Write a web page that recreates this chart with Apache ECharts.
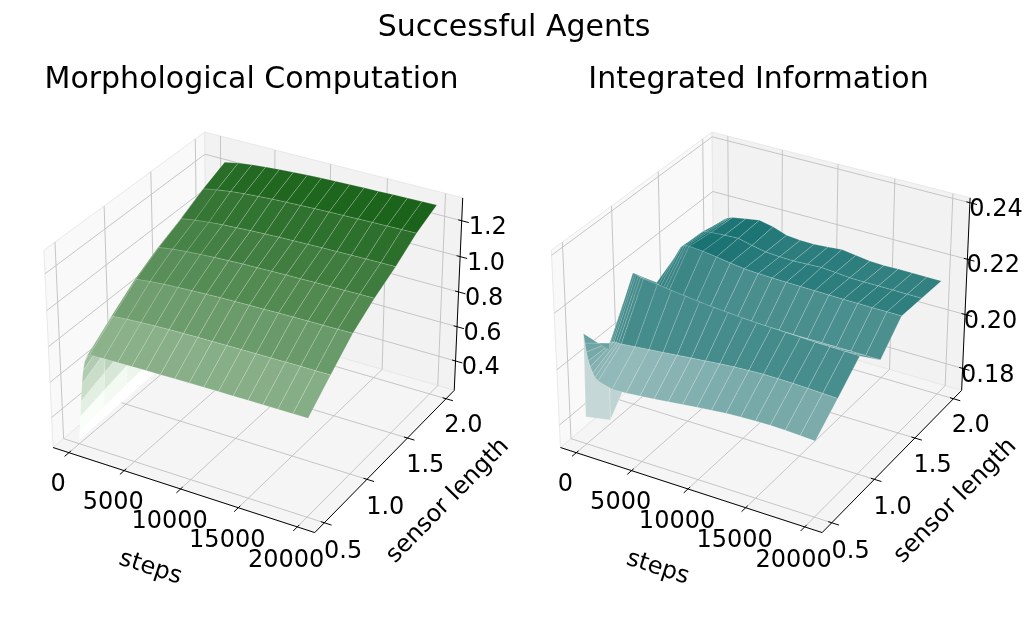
<!DOCTYPE html>
<html><head><meta charset="utf-8"><title>Successful Agents</title>
<script src="https://cdn.jsdelivr.net/npm/echarts@6.0.0/dist/echarts.min.js"></script>
<style>html,body{margin:0;padding:0;background:#fff;}#chart{width:1028px;height:630px;}</style>
</head><body><div id="chart"></div>
<script>
// ---------------- data ----------------
const steps = [0, 100, 200, 300, 450, 600, 800, 1000, 1250, 2500, 3750, 5000, 6250, 7500, 8750, 10000, 11250, 12500, 13750, 15000, 16250, 17500, 18750, 20000];
const sensorLengths = [0.5, 0.75, 1.0, 1.25, 1.5, 1.75, 2.0];

// Morphological Computation, one array per sensor length (values along steps)
const mc050 = [0.248, 0.309, 0.391, 0.478, 0.580, 0.656, 0.717, 0.745, 0.758, 0.761, 0.763, 0.765, 0.767, 0.768, 0.769, 0.770, 0.771, 0.772, 0.772, 0.773, 0.774, 0.774, 0.775, 0.775];
const mc075 = [0.255, 0.328, 0.426, 0.530, 0.652, 0.743, 0.816, 0.850, 0.865, 0.872, 0.877, 0.881, 0.884, 0.886, 0.888, 0.889, 0.890, 0.891, 0.892, 0.893, 0.894, 0.895, 0.895, 0.896];
const mc100 = [0.260, 0.345, 0.458, 0.579, 0.720, 0.826, 0.911, 0.950, 0.968, 0.978, 0.985, 0.990, 0.994, 0.997, 1.000, 1.002, 1.004, 1.005, 1.007, 1.008, 1.009, 1.010, 1.011, 1.012];
const mc125 = [0.265, 0.359, 0.483, 0.616, 0.772, 0.889, 0.983, 1.026, 1.045, 1.057, 1.065, 1.071, 1.076, 1.080, 1.083, 1.085, 1.087, 1.089, 1.090, 1.092, 1.093, 1.094, 1.095, 1.096];
const mc150 = [0.270, 0.371, 0.505, 0.647, 0.815, 0.940, 1.041, 1.087, 1.108, 1.121, 1.130, 1.137, 1.142, 1.147, 1.150, 1.153, 1.155, 1.157, 1.159, 1.160, 1.162, 1.163, 1.164, 1.165];
const mc175 = [0.275, 0.384, 0.528, 0.682, 0.863, 0.999, 1.108, 1.157, 1.180, 1.195, 1.206, 1.214, 1.220, 1.225, 1.229, 1.232, 1.235, 1.237, 1.239, 1.241, 1.243, 1.244, 1.246, 1.247];
const mc200 = [0.280, 0.395, 0.548, 0.711, 0.903, 1.046, 1.161, 1.214, 1.238, 1.253, 1.264, 1.271, 1.277, 1.282, 1.286, 1.289, 1.292, 1.294, 1.296, 1.298, 1.300, 1.301, 1.303, 1.304];

// Integrated Information, one array per sensor length
const ii050 = [0.1817, 0.2117, 0.2085, 0.2055, 0.2025, 0.2005, 0.1985, 0.1972, 0.1962, 0.1948, 0.1950, 0.1955, 0.1960, 0.1966, 0.1972, 0.1978, 0.1983, 0.1988, 0.1991, 0.1993, 0.1994, 0.1993, 0.1990, 0.1987];
const ii075 = [0.1731, 0.1990, 0.2015, 0.2020, 0.2022, 0.2025, 0.2025, 0.2024, 0.2025, 0.2030, 0.2035, 0.2040, 0.2045, 0.2050, 0.2055, 0.2060, 0.2064, 0.2067, 0.2069, 0.2069, 0.2068, 0.2066, 0.2064, 0.2062];
const ii100 = [0.1850, 0.2120, 0.2185, 0.2200, 0.2201, 0.2198, 0.2195, 0.2193, 0.2191, 0.2185, 0.2178, 0.2172, 0.2166, 0.2161, 0.2157, 0.2153, 0.2150, 0.2148, 0.2146, 0.2144, 0.2142, 0.2141, 0.2140, 0.2139];
const ii125 = [0.1800, 0.2050, 0.2095, 0.2101, 0.2095, 0.2088, 0.2080, 0.2074, 0.2070, 0.2062, 0.2058, 0.2055, 0.2053, 0.2052, 0.2052, 0.2053, 0.2054, 0.2055, 0.2055, 0.2056, 0.2056, 0.2056, 0.2055, 0.2055];
const ii150 = [0.1830, 0.2040, 0.2120, 0.2150, 0.2165, 0.2172, 0.2176, 0.2178, 0.2179, 0.2175, 0.2168, 0.2160, 0.2153, 0.2150, 0.2148, 0.2147, 0.2146, 0.2145, 0.2144, 0.2143, 0.2143, 0.2142, 0.2142, 0.2142];
const ii175 = [0.1860, 0.2060, 0.2130, 0.2152, 0.2160, 0.2163, 0.2164, 0.2165, 0.2166, 0.2170, 0.2172, 0.2160, 0.2150, 0.2146, 0.2145, 0.2147, 0.2149, 0.2145, 0.2140, 0.2139, 0.2139, 0.2139, 0.2138, 0.2138];
const ii200 = [0.1900, 0.2050, 0.2100, 0.2125, 0.2140, 0.2148, 0.2153, 0.2156, 0.2159, 0.2168, 0.2176, 0.2165, 0.2148, 0.2143, 0.2142, 0.2146, 0.2150, 0.2143, 0.2136, 0.2134, 0.2135, 0.2135, 0.2134, 0.2134];

const stepTicks = [0, 5000, 10000, 15000, 20000];
const sensorTicks = [0.5, 1.0, 1.5, 2.0];
const mcZTicks = [0.4, 0.6, 0.8, 1.0, 1.2];
const iiZTicks = [0.18, 0.20, 0.22, 0.24];
const mcZRange = [0.248, 1.304];     // z axis data range (left)
const iiZRange = [0.1731, 0.2403];   // z axis data range (right)

// ---------------- camera (matplotlib-like 3D view) ----------------
const ELEV = 30, AZIM = -60, DIST = 10, BOX = [4, 4, 3];
const cam = (function () {
  const n = Math.hypot(BOX[0], BOX[1], BOX[2]);
  const asp = BOX.map(b => b * 1.8294640721620434 / n);
  const R = asp.map(a => a / 2);
  const el = ELEV * Math.PI / 180, az = AZIM * Math.PI / 180;
  const w = [Math.cos(el) * Math.cos(az), Math.cos(el) * Math.sin(az), Math.sin(el)];
  const E = R.map((r, i) => r + DIST * w[i]);
  let u = [-w[1], w[0], 0];
  const un = Math.hypot(u[0], u[1], u[2]); u = u.map(c => c / un);
  const v = [w[1] * u[2] - w[2] * u[1], w[2] * u[0] - w[0] * u[2], w[0] * u[1] - w[1] * u[0]];
  return { asp, E, u, v, w };
})();
function projN(X, Y, Z) {
  const d = [X - cam.E[0], Y - cam.E[1], Z - cam.E[2]];
  const dot = a => a[0] * d[0] + a[1] * d[1] + a[2] * d[2];
  const D = -dot(cam.w);
  return [dot(cam.u) / D, dot(cam.v) / D, D];
}
function boxLim(lo, hi, margin) {
  const r = hi - lo; const a = lo - margin * r, b = hi + margin * r; const p = (b - a) / 48;
  return [a - p, b + p];
}
const FONT = "'DejaVu Sans', 'Liberation Sans', sans-serif";
const A = cam.asp;

function makePanel(cfg) {
  const p = Object.assign({}, cfg);
  p.xb = boxLim(0, 20000, 0.05);
  p.yb = boxLim(0.5, 2.0, 0.05);
  p.zb = boxLim(cfg.zRange[0], cfg.zRange[1], 0);
  p.nrm = (x, y, z) => [(x - p.xb[0]) / (p.xb[1] - p.xb[0]) * A[0], (y - p.yb[0]) / (p.yb[1] - p.yb[0]) * A[1], (z - p.zb[0]) / (p.zb[1] - p.zb[0]) * A[2]];
  p.scrN = (X, Y, Z) => { const s = projN(X, Y, Z); return [p.ox + p.k * s[0], p.oy - p.k * s[1], s[2]]; };
  p.scr = (x, y, z) => { const n = p.nrm(x, y, z); return p.scrN(n[0], n[1], n[2]); };
  let mn = Infinity, mx = -Infinity;
  p.rows.forEach(r => r.forEach(v => { mn = Math.min(mn, v); mx = Math.max(mx, v); }));
  p.cmin = mn; p.cmax = mx;
  p.color = z => {
    const t = (z - p.cmin) / (p.cmax - p.cmin);
    const c = p.cLow.map((c0, i) => Math.max(0, Math.min(255, Math.round(c0 + (p.cHigh[i] - c0) * t))));
    return 'rgb(' + c.join(',') + ')';
  };
  return p;
}

const panels = [
  makePanel({ title: 'Morphological Computation', titleX: 251.5, ox: 257.2, oy: 323.1, k: 2624,
    rows: [mc050, mc075, mc100, mc125, mc150, mc175, mc200], zRange: mcZRange, zTicks: mcZTicks, zDigits: 1,
    cLow: [277, 274, 277], cHigh: [20, 94, 19] }),
  makePanel({ title: 'Integrated Information', titleX: 758.5, ox: 764.6, oy: 323.1, k: 2624,
    rows: [ii050, ii075, ii100, ii125, ii150, ii175, ii200], zRange: iiZRange, zTicks: iiZTicks, zDigits: 2,
    cLow: [319, 286, 286], cHigh: [7, 103, 103] })
];

// ---------------- axes box (panes, grid, ticks, labels) ----------------
const elements = [];
function pl(pts) { return pts.map(q => [q[0], q[1]]); }
function addText(text, x, y, size, rot, z2) {
  elements.push({ type: 'text', x: x, y: y, rotation: rot || 0, z2: z2 || 10, silent: true,
    style: { text: text, fontSize: size, fontFamily: FONT, fill: '#000', align: 'center', verticalAlign: 'middle', textAlign: 'center', textVerticalAlign: 'middle' } });
}
addText('Successful Agents', 514, 28, 30, 0, 10);

panels.forEach(p => {
  const S = p.scrN;
  const a = A[0], b = A[1], c = A[2];
  // panes
  const panes = [
    { pts: [S(0, 0, 0), S(0, b, 0), S(0, b, c), S(0, 0, c)], fill: '#f9f9f9' },
    { pts: [S(0, b, 0), S(a, b, 0), S(a, b, c), S(0, b, c)], fill: '#f2f2f2' },
    { pts: [S(0, 0, 0), S(a, 0, 0), S(a, b, 0), S(0, b, 0)], fill: '#f5f5f5' }
  ];
  panes.forEach(q => elements.push({ type: 'polygon', z2: 0, silent: true, shape: { points: pl(q.pts) }, style: { fill: q.fill, stroke: '#e9e9e9', lineWidth: 1 } }));
  const grid = pts => elements.push({ type: 'polyline', z2: 1, silent: true, shape: { points: pl(pts) }, style: { fill: null, stroke: '#bfbfbf', lineWidth: 0.9 } });
  stepTicks.forEach(t => { const X = p.nrm(t, 1, 1)[0]; grid([S(X, 0, 0), S(X, b, 0), S(X, b, c)]); });
  sensorTicks.forEach(t => { const Y = p.nrm(0, t, 1)[1]; grid([S(a, Y, 0), S(0, Y, 0), S(0, Y, c)]); });
  p.zTicks.forEach(t => { const Z = p.nrm(0, 1, t)[2]; grid([S(0, 0, Z), S(0, b, Z), S(a, b, Z)]); });
  // axis lines
  const line = (p0, p1) => elements.push({ type: 'line', z2: 2, silent: true, shape: { x1: p0[0], y1: p0[1], x2: p1[0], y2: p1[1] }, style: { stroke: '#000', lineWidth: 1 } });
  line(S(0, 0, 0), S(a, 0, 0));
  line(S(a, 0, 0), S(a, b, 0));
  line(S(a, b, 0), S(a, b, c));
  // ticks and tick labels
  stepTicks.forEach(t => {
    const X = p.nrm(t, 1, 1)[0];
    line(S(X, 0.015, 0), S(X, -0.03, 0));
    const L = S(X, -0.081, -0.10); addText(String(t), L[0], L[1], 24);
  });
  sensorTicks.forEach(t => {
    const Y = p.nrm(0, t, 1)[1];
    line(S(a - 0.015, Y, 0), S(a + 0.03, Y, 0));
    const L = S(a + 0.08, Y, -0.10); addText(t.toFixed(1), L[0], L[1], 24);
  });
  p.zTicks.forEach(t => {
    const Z = p.nrm(0, 1, t)[2];
    line(S(a - 0.015, b, Z), S(a + 0.03, b, Z));
    const L = S(a + 0.11, b, Z); addText(t.toFixed(p.zDigits), L[0], L[1], 24);
  });
  // axis titles
  const x0 = S(0, 0, 0), x1 = S(a, 0, 0);
  const lx = S(a / 2, -0.221, -0.224);
  addText('steps', lx[0], lx[1], 24, Math.atan2(-(x1[1] - x0[1]), x1[0] - x0[0]));
  const y0 = S(a, 0, 0), y1 = S(a, b, 0);
  const ly = S(a + 0.26, b / 2, -0.107);
  addText('sensor length', ly[0], ly[1], 24, Math.atan2(-(y1[1] - y0[1]), y1[0] - y0[0]));
  addText(p.title, p.titleX, 80, 30);
});

// ---------------- surfaces (custom series, depth sorted facets) ----------------
function facetData(p) {
  const list = [];
  for (let j = 0; j < sensorLengths.length - 1; j++) {
    for (let i = 0; i < steps.length - 1; i++) {
      let d = 0;
      [[i, j], [i + 1, j], [i + 1, j + 1], [i, j + 1]].forEach(q => { d += p.scr(steps[q[0]], sensorLengths[q[1]], p.rows[q[1]][q[0]])[2]; });
      list.push([i, j, d / 4]);
    }
  }
  list.sort((m, n) => n[2] - m[2]);
  return list.map((f, r) => [f[0], f[1], r]);
}
const series = panels.map(p => ({
  type: 'custom',
  coordinateSystem: 'none',
  silent: true,
  z: 5,
  animation: false,
  data: facetData(p),
  renderItem: function (params, api) {
    const i = api.value(0), j = api.value(1), r = api.value(2);
    const corners = [[i, j], [i + 1, j], [i + 1, j + 1], [i, j + 1]];
    let zs = 0;
    const pts = corners.map(q => { const z = p.rows[q[1]][q[0]]; zs += z; const s = p.scr(steps[q[0]], sensorLengths[q[1]], z); return [s[0], s[1]]; });
    return { type: 'polygon', z2: r, shape: { points: pts },
      style: { fill: p.color(zs / 4), stroke: 'rgba(255,255,255,0.28)', lineWidth: 0.6, lineJoin: 'round' } };
  }
}));

const chart = echarts.init(document.getElementById('chart'), null, { renderer: 'canvas' });
chart.setOption({
  backgroundColor: '#ffffff',
  animation: false,
  graphic: { elements: elements },
  series: series
});
</script></body></html>
